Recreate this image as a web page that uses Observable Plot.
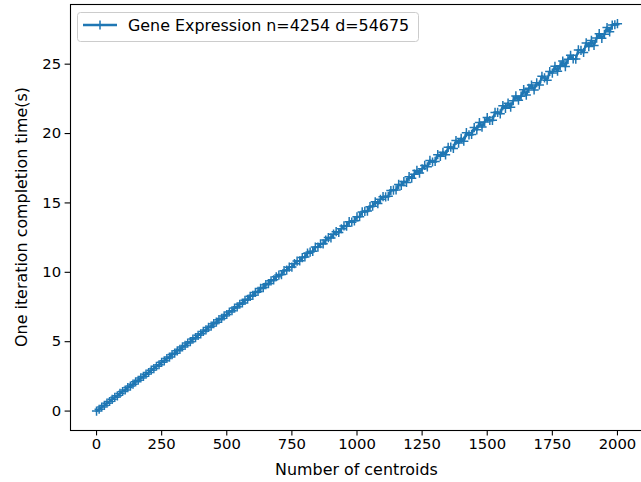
<!DOCTYPE html>
<html><head><meta charset="utf-8">
<script src="https://cdn.jsdelivr.net/npm/d3@7"></script>
<script src="https://cdn.jsdelivr.net/npm/@observablehq/plot@0.6"></script>
<style>body{margin:0;background:#fff} #chart svg{display:block;overflow:hidden}</style>
</head><body><div id="chart"></div>
<script>
const seriesLabel = "Gene Expression n=4254 d=54675";
const xLabel = "Number of centroids";
const yLabel = "One iteration completion time(s)";
const xTicks = [0, 250, 500, 750, 1000, 1250, 1500, 1750, 2000];
const yTicks = [0, 5, 10, 15, 20, 25];
const centroids = d3.range(0, 2001, 10);
const times = [
  0.00, 0.13, 0.29, 0.41, 0.57, 0.69, 0.85, 0.99, 1.10, 1.27,
  1.41, 1.52, 1.69, 1.80, 1.94, 2.11, 2.22, 2.39, 2.50, 2.66,
  2.78, 2.95, 3.06, 3.23, 3.34, 3.51, 3.62, 3.79, 3.89, 4.07,
  4.17, 4.34, 4.45, 4.62, 4.73, 4.90, 5.00, 5.19, 5.29, 5.46,
  5.57, 5.74, 5.85, 6.03, 6.12, 6.30, 6.41, 6.59, 6.68, 6.86,
  6.96, 7.14, 7.23, 7.42, 7.51, 7.70, 7.79, 7.98, 8.06, 8.27,
  8.34, 8.55, 8.62, 8.84, 8.90, 9.11, 9.19, 9.39, 9.46, 9.68,
  9.80, 9.84, 10.12, 10.16, 10.37, 10.38, 10.62, 10.81, 10.83, 11.06,
  11.11, 11.38, 11.46, 11.51, 11.82, 11.82, 12.06, 12.05, 12.32, 12.50,
  12.48, 12.75, 12.93, 12.87, 13.14, 13.34, 13.32, 13.65, 13.61, 13.71,
  14.00, 14.01, 14.35, 14.39, 14.41, 14.73, 14.76, 15.08, 14.95, 15.26,
  15.45, 15.44, 15.48, 15.89, 15.93, 15.94, 16.33, 16.26, 16.54, 16.48,
  16.89, 16.78, 17.07, 17.34, 17.15, 17.46, 17.70, 17.60, 18.06, 17.95,
  17.99, 18.48, 18.36, 18.65, 18.47, 19.01, 19.02, 18.93, 19.50, 19.31,
  19.65, 19.45, 20.06, 19.90, 19.94, 20.43, 20.27, 20.79, 20.47, 20.84,
  21.15, 20.94, 20.95, 21.52, 21.53, 21.42, 22.01, 21.82, 22.19, 21.90,
  22.37, 22.71, 22.40, 22.69, 23.16, 22.77, 23.26, 23.50, 23.14, 23.66,
  23.50, 24.13, 24.01, 23.85, 24.47, 24.36, 24.85, 24.49, 24.88, 25.22,
  24.83, 25.35, 25.64, 25.38, 25.37, 26.03, 26.00, 25.84, 26.53, 26.27,
  26.71, 26.35, 26.88, 27.20, 26.86, 27.15, 27.64, 27.33, 27.82, 27.84,
  27.92
];
const data = centroids.map((x, i) => ({x, y: times[i]}));
const blue = "#1f77b4";
const plus = {draw(ctx, size) { const r = Math.sqrt(size / Math.PI); ctx.moveTo(-r, 0); ctx.lineTo(r, 0); ctx.moveTo(0, -r); ctx.lineTo(0, r); }};
const labelFont = "15.9px";

const chart = Plot.plot({
  width: 641, height: 482,
  marginLeft: 70, marginRight: -2, marginTop: 4, marginBottom: 52,
  style: {fontFamily: "DejaVu Sans", fontSize: "14.8px", color: "#000", background: "#fff", overflow: "hidden"},
  x: {domain: [-100, 2100]},
  y: {domain: [-1.4, 29.3]},
  marks: [
    Plot.axisX({ticks: xTicks, tickSize: 5.4, tickPadding: 3, label: null, tickFormat: d => String(d), stroke: "#000", strokeWidth: 1.1}),
    Plot.axisY({ticks: yTicks, tickSize: 5.4, tickPadding: 4, label: null, tickFormat: d => String(d), stroke: "#000", strokeWidth: 1.1}),
    Plot.line(data, {x: "x", y: "y", stroke: blue, strokeWidth: 2.3}),
    Plot.dot(data, {x: "x", y: "y", symbol: plus, r: 4.6, stroke: blue, strokeWidth: 1.5, fill: "none"}),
    Plot.frame({stroke: "#000", strokeWidth: 1.1})
  ]
});
document.getElementById("chart").appendChild(chart);

const svg = d3.select(chart);
const xs = chart.scale("x"), ys = chart.scale("y");
const cx = (xs.range[0] + xs.range[1]) / 2;
const cy = (ys.range[0] + ys.range[1]) / 2;
svg.append("text").attr("x", cx).attr("y", 475).attr("text-anchor", "middle")
  .attr("font-family", "DejaVu Sans").attr("font-size", labelFont).attr("fill", "#000").text(xLabel);
svg.append("text").attr("transform", `translate(27,${cy}) rotate(-90)`).attr("text-anchor", "middle")
  .attr("font-family", "DejaVu Sans").attr("font-size", labelFont).attr("fill", "#000").text(yLabel);

const lg = svg.append("g");
lg.append("rect").attr("x", 77.5).attr("y", 12.5).attr("width", 341).attr("height", 29).attr("rx", 3)
  .attr("fill", "#fff").attr("fill-opacity", 0.8).attr("stroke", "#cccccc").attr("stroke-width", 1);
lg.append("line").attr("x1", 83).attr("x2", 117).attr("y1", 25).attr("y2", 25).attr("stroke", blue).attr("stroke-width", 2.3);
lg.append("path").attr("d", "M95.4,25H104.6M100,20.4V29.6").attr("stroke", blue).attr("stroke-width", 1.5);
lg.append("text").attr("x", 128).attr("y", 30.5).attr("text-anchor", "start").attr("font-family", "DejaVu Sans").attr("font-size", labelFont)
  .attr("fill", "#000").text(seriesLabel);
</script>
</body></html>
